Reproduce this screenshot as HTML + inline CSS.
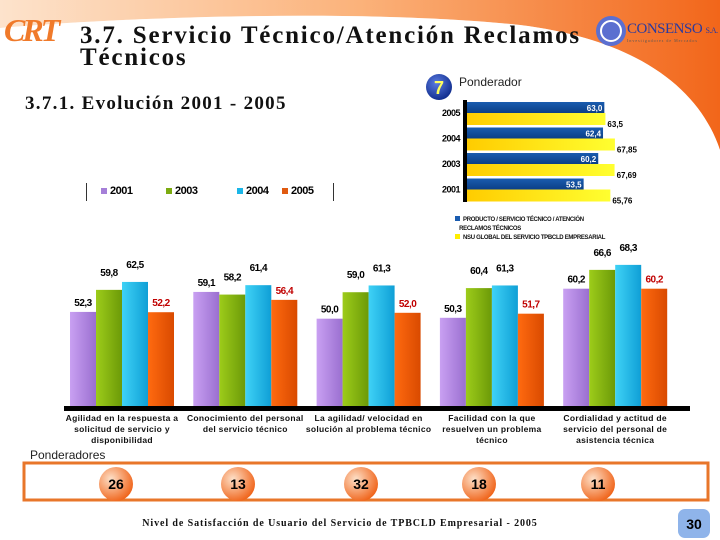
<!DOCTYPE html>
<html><head><meta charset="utf-8"><style>
body{margin:0;width:720px;height:540px;overflow:hidden;background:#fff;font-family:"Liberation Sans",sans-serif;position:relative}
.abs{position:absolute}
</style></head><body>
<svg class="abs" style="left:0;top:0" width="720" height="540">
<defs>
<linearGradient id="hdr" x1="0" x2="1" y1="0" y2="0"><stop offset="0" stop-color="#fde3cc"/><stop offset="0.5" stop-color="#fbb27a"/><stop offset="1" stop-color="#f2661a"/></linearGradient>
<linearGradient id="pu" x1="0" x2="1"><stop offset="0" stop-color="#c9a0f2"/><stop offset="1" stop-color="#9a6fd0"/></linearGradient>
<linearGradient id="gr" x1="0" x2="1"><stop offset="0" stop-color="#9dcc1a"/><stop offset="1" stop-color="#6c9a08"/></linearGradient>
<linearGradient id="cy" x1="0" x2="1"><stop offset="0" stop-color="#3fd2f6"/><stop offset="1" stop-color="#0f9fd6"/></linearGradient>
<linearGradient id="or" x1="0" x2="1"><stop offset="0" stop-color="#ff6a10"/><stop offset="1" stop-color="#d94a00"/></linearGradient>
<linearGradient id="bl" x1="0" x2="0" y1="0" y2="1"><stop offset="0" stop-color="#1a5cb0"/><stop offset="1" stop-color="#0b3f86"/></linearGradient>
<linearGradient id="ye" x1="0" x2="1"><stop offset="0" stop-color="#ffcc00"/><stop offset="1" stop-color="#ffff30"/></linearGradient>
<radialGradient id="circ" cx="0.35" cy="0.35" r="0.7"><stop offset="0" stop-color="#fde0c8"/><stop offset="1" stop-color="#f0641a"/></radialGradient>
<radialGradient id="seven" cx="0.4" cy="0.35" r="0.7"><stop offset="0" stop-color="#5a7be0"/><stop offset="1" stop-color="#0d2a8a"/></radialGradient>
</defs>
<path d="M0 0 H720 V150 C700 90 640 40 520 25 C380 10 150 15 0 28 Z" fill="url(#hdr)"/>
<path d="M0 28 C150 15 380 10 520 25 C640 40 700 90 720 150 V152 C690 100 620 50 520 35 C380 20 150 22 0 36 Z" fill="#fff" opacity="0.6"/>
<g id="cols"></g>
<g id="hbars"></g>
<rect x="24" y="463" width="684" height="37" fill="none" stroke="#e8762a" stroke-width="3"/>
<g id="circles"></g>
<circle cx="439" cy="87" r="13" fill="url(#seven)"/>
<text x="439" y="94" text-anchor="middle" font-size="18" font-weight="bold" fill="#ffff60" font-family="Liberation Sans">7</text>
<rect x="678" y="509" width="32" height="29" rx="7" fill="#8fb4ea"/>
<text x="694" y="529" text-anchor="middle" font-size="14" font-weight="bold" fill="#000">30</text>
<circle cx="611" cy="31" r="15" fill="#5b6fd0"/>
<circle cx="611" cy="31" r="10" fill="none" stroke="#fff" stroke-width="2"/>
</svg>
<div class="abs" style="left:4px;top:12px;font:italic bold 32px 'Liberation Serif',serif;color:#f07a2a;letter-spacing:-3px">CRT</div>
<div class="abs" style="left:627px;top:21px;font:15px 'Liberation Serif',serif;color:#2a3aa0;white-space:nowrap;letter-spacing:-0.5px">CONSENSO <span style="font-size:8px">S.A.</span><div style="font-size:4px;letter-spacing:1px;color:#555">Investigadores de Mercados</div></div>
<div class="abs" style="left:80px;top:25px;font:bold 25px/22px 'Liberation Serif',serif;color:#111;letter-spacing:1.8px;white-space:nowrap">3.7. Servicio Técnico/Atención Reclamos<br>Técnicos</div>
<div class="abs" style="left:25px;top:93px;font:bold 19px 'Liberation Serif',serif;color:#111;letter-spacing:1.3px">3.7.1. Evolución 2001 - 2005</div>
<div class="abs" style="left:459px;top:75px;font:12px 'Liberation Sans',sans-serif;color:#222">Ponderador</div>
<div class="abs" style="left:455px;top:216px;font:bold 6px/9px 'Liberation Sans',sans-serif;color:#111;letter-spacing:-0.3px">
<div><span style="display:inline-block;width:5px;height:5px;background:#1a5cb0;margin-right:3px"></span>PRODUCTO / SERVICIO TÉCNICO / ATENCIÓN<br>&nbsp;&nbsp;&nbsp;RECLAMOS TÉCNICOS</div>
<div><span style="display:inline-block;width:5px;height:5px;background:#ffee00;margin-right:3px"></span>NSU GLOBAL DEL SERVICIO TPBCLD EMPRESARIAL</div></div>
<div class="abs" style="left:86px;top:183px;width:246px;height:18px;border-left:1px solid #333;border-right:1px solid #333;font:bold 11px 'Liberation Sans',sans-serif;letter-spacing:-0.5px">
<span class="abs" style="left:14px;top:2px"><span style="display:inline-block;width:6px;height:6px;background:#a57fd8;margin-right:3px"></span>2001</span>
<span class="abs" style="left:79px;top:2px"><span style="display:inline-block;width:6px;height:6px;background:#7cab10;margin-right:3px"></span>2003</span>
<span class="abs" style="left:150px;top:2px"><span style="display:inline-block;width:6px;height:6px;background:#1ab6e8;margin-right:3px"></span>2004</span>
<span class="abs" style="left:195px;top:2px"><span style="display:inline-block;width:6px;height:6px;background:#e05a10;margin-right:3px"></span>2005</span>
</div>
<div class="abs" style="left:30px;top:448px;font:12px 'Liberation Sans',sans-serif;color:#222">Ponderadores</div>
<div class="abs" style="left:0;width:680px;top:518px;text-align:center;font:bold 10px 'Liberation Serif',serif;color:#111;letter-spacing:0.9px">Nivel de Satisfacción de Usuario del Servicio de TPBCLD Empresarial - 2005</div>
<div id="catlabels"></div>
<script>
const categories=["Agilidad en la respuesta a solicitud de servicio y disponibilidad","Conocimiento del personal del servicio técnico","La agilidad/ velocidad en solución al problema técnico","Facilidad con la que resuelven un problema técnico","Cordialidad y actitud de servicio del personal de asistencia técnica"];
const v2001=[52.3,59.1,50.0,50.3,60.2];
const v2003=[59.8,58.2,59.0,60.4,66.6];
const v2004=[62.5,61.4,61.3,61.3,68.3];
const v2005=[52.2,56.4,52.0,51.7,60.2];
const weights=[26,13,32,18,11];
const hYears=["2005","2004","2003","2001"];
const hProduct=[63.0,62.4,60.2,53.5];
const hGlobal=[63.5,67.85,67.69,65.76];
const hProductLbl=["63,0","62,4","60,2","53,5"];
const hGlobalLbl=["63,5","67,85","67,69","65,76"];
const NS="http://www.w3.org/2000/svg";
function mk(tag,attrs,parent){const e=document.createElementNS(NS,tag);for(const k in attrs)e.setAttribute(k,attrs[k]);parent.appendChild(e);return e;}
const base=406, vmin=20.3, k=2.94;
const y=v=>base-(v-vmin)*k;
const gx=i=>70+i*123.3;
const fmt=v=>v.toFixed(1).replace('.',',');
const cols=document.getElementById('cols');
const series=[[v2001,'url(#pu)','#000'],[v2003,'url(#gr)','#000'],[v2004,'url(#cy)','#000'],[v2005,'url(#or)','#c00000']];
categories.forEach((c,i)=>{
  series.forEach((s,j)=>{
    const v=s[0][i];const x=gx(i)+j*26;
    const r=mk('rect',{x:x,y:y(v),width:26,height:base-y(v),fill:s[1]},cols);
    
    
    const t=mk('text',{x:x+13,y:y(v)-(j==1||j==2?14:6),'text-anchor':'middle','font-size':10,'font-weight':'bold',fill:s[2],'letter-spacing':'-0.5'},cols);
    t.textContent=fmt(v);
    
    
  });
  const d=document.createElement('div');
  d.className='abs';
  d.style.cssText='left:'+(gx(i)+52-64)+'px;top:413px;width:128px;text-align:center;font:bold 8.5px/11px "Liberation Sans",sans-serif;color:#111;letter-spacing:0.3px';
  d.textContent=c;
  
  
  document.getElementById('catlabels').appendChild(d);
  const cx=[116,238,361,479,598][i];
  const ci=mk('circle',{cx:cx,cy:484,r:17,fill:'url(#circ)'},document.getElementById('circles'));
  
  
  const wt=mk('text',{x:cx,y:489,'text-anchor':'middle','font-size':14,'font-weight':'bold'},document.getElementById('circles'));
  wt.textContent=weights[i];
});
const ax=mk('rect',{x:64,y:406,width:626,height:5,fill:'#000'},cols);


const hb=document.getElementById('hbars');
const hx=v=>467+v*2.18;
hYears.forEach((yr,i)=>{
  const top=102+i*25.5;
  const b=mk('rect',{x:467,y:top,width:hx(hProduct[i])-467,height:11,fill:'url(#bl)'},hb);
  
  
  const g=mk('rect',{x:467,y:top+11,width:hx(hGlobal[i])-467,height:12,fill:'url(#ye)'},hb);
  
  
  const t1=mk('text',{x:hx(hProduct[i])-2,y:top+9,'text-anchor':'end','font-size':8,'font-weight':'bold',fill:'#fff'},hb);t1.textContent=hProductLbl[i];
  const t2=mk('text',{x:hx(hGlobal[i])+2,y:top+25,'font-size':8,'font-weight':'bold',fill:'#000'},hb);t2.textContent=hGlobalLbl[i];
  const t3=mk('text',{x:460,y:top+14,'text-anchor':'end','font-size':9,'font-weight':'bold','letter-spacing':'-0.5'},hb);t3.textContent=yr;
});
const ha=mk('rect',{x:463,y:100,width:4,height:102,fill:'#000'},hb);


</script>
</body></html>
